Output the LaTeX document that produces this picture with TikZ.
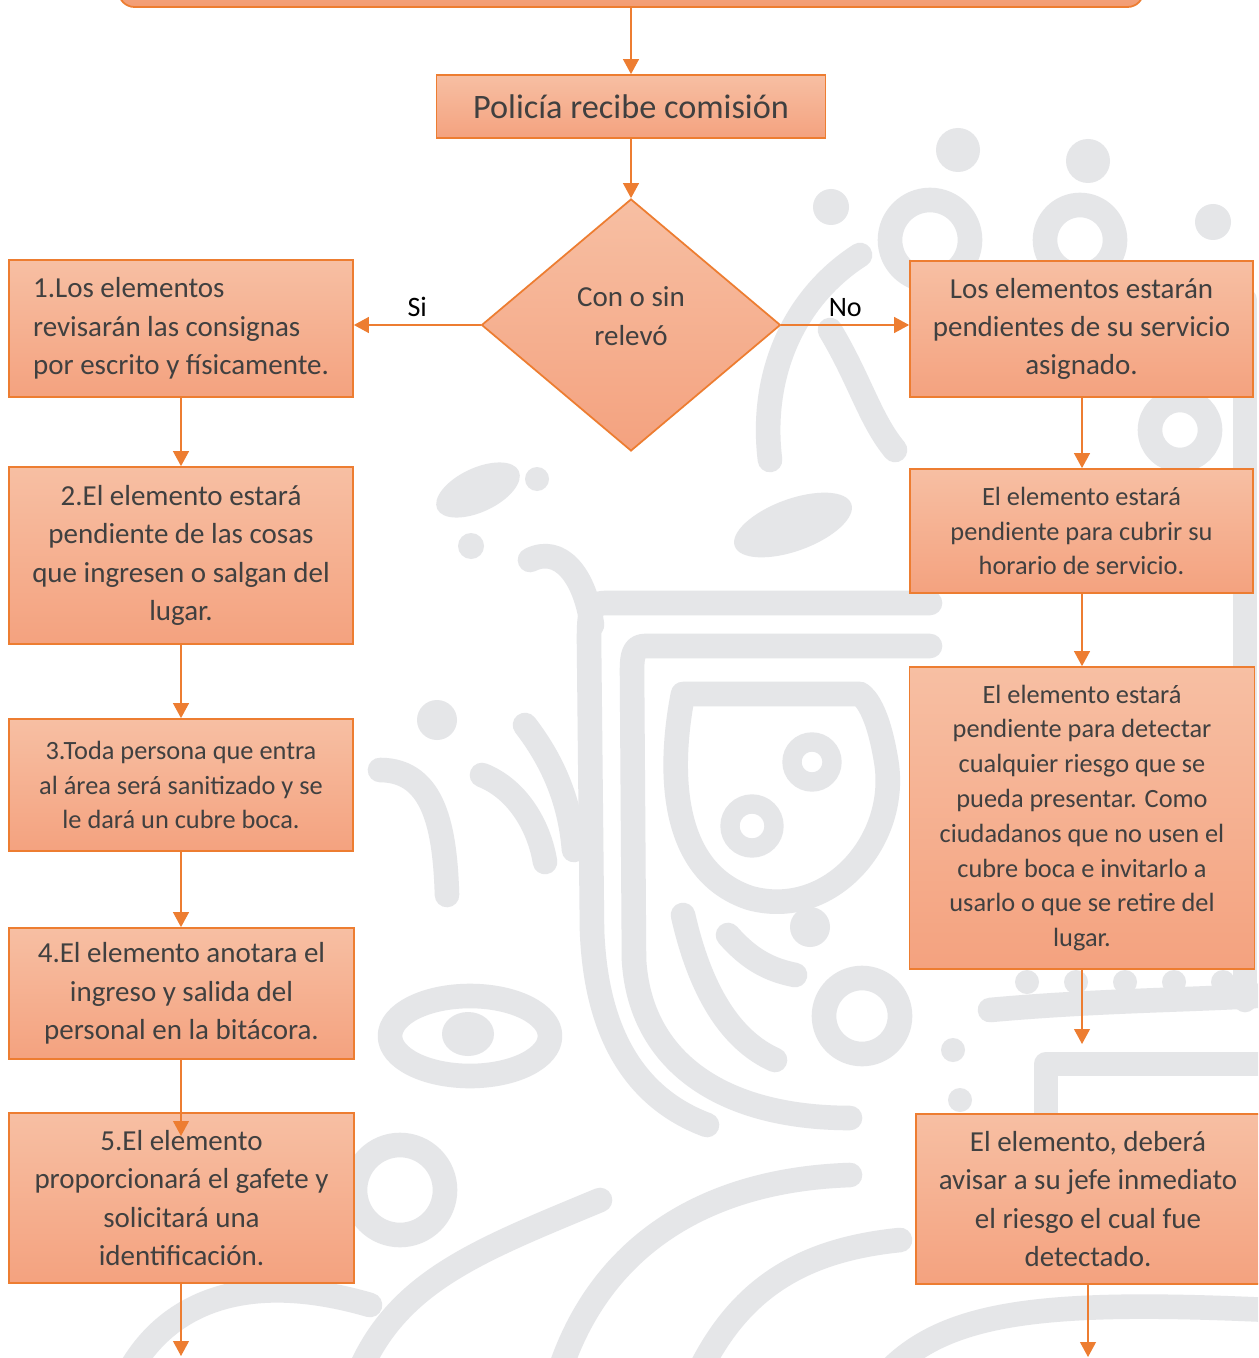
\documentclass[tikz,border=0pt]{standalone}
\usepackage{fontspec}
\setmainfont{Carlito}
\usepackage{xcolor}
\usepackage{tikz}
\usetikzlibrary{arrows.meta,positioning,shapes.geometric}

\definecolor{borde}{HTML}{ED7D31}
\definecolor{ftop}{HTML}{F7BFA3}
\definecolor{fbot}{HTML}{F4A27F}
\definecolor{texto}{HTML}{404040}
\definecolor{orncol}{HTML}{E5E6E8}

\tikzset{
  paso/.style={rectangle,draw=borde,line width=1pt,top color=ftop,bottom color=fbot,text=texto,
    align=center,inner sep=0pt,font=\fontsize{16.5}{21.8}\selectfont},
  pasochico/.style={paso,font=\fontsize{15}{19.8}\selectfont},
  flecha/.style={draw=borde,line width=0.8pt,-{Triangle[length=8.5pt,width=9pt]}},
  orn/.style={draw=orncol,line width=14pt,line cap=round,line join=round},
  ornfino/.style={draw=orncol,line width=11pt,line cap=round},
}

\begin{document}
\begin{tikzpicture}[x=0.02cm,y=-0.02cm]
\useasboundingbox (0,0) rectangle (1258,1358);
\fill[white] (0,0) rectangle (1258,1358);
\clip (0,0) rectangle (1258,1358);

% ornamento de fondo
\draw[orn] (930,603) -- (605,603) .. controls (590,603) and (589,615) .. (589,640) -- (592,930) .. controls (596,1040) and (640,1100) .. (707,1125);
\draw[orn] (930,646) -- (645,646) .. controls (634,646) and (632,655) .. (632,670) -- (634,960) .. controls (640,1060) and (720,1118) .. (850,1118);
\draw[orn] (860,694) -- (683,694) .. controls (670,760) and (665,870) .. (750,898) .. controls (830,920) and (900,840) .. (886,760) .. controls (878,712) and (866,698) .. (860,694);
\draw[ornfino] (812,762) circle (20); \draw[ornfino] (752,826) circle (22);
\draw[orn] (683,915) .. controls (700,990) and (730,1040) .. (775,1060); \draw[orn] (728,935) .. controls (750,960) and (770,970) .. (795,975);
\fill[orncol] (810,927) circle (20); \draw[orn] (862,1016) circle (38);
\fill[orncol,rotate around={25:(478,490)}] (478,490) ellipse (45 and 22); \fill[orncol,rotate around={20:(793,525)}] (793,525) ellipse (62 and 26);
\fill[orncol] (437,720) circle (20); \fill[orncol] (471,546) circle (13); \fill[orncol] (537,479) circle (12);
\draw[orn] (530,560) .. controls (560,545) and (585,575) .. (592,625);
\draw[orn] (482,775) .. controls (520,790) and (540,830) .. (545,862); \draw[orn] (525,725) .. controls (552,760) and (570,800) .. (574,850);
\draw[orn] (470,1036) ellipse (80 and 40); \fill[orncol] (468,1034) ellipse (26 and 22);
\draw[orn] (380,770) .. controls (435,770) and (445,830) .. (447,895);
\fill[orncol] (958,150) circle (22); \fill[orncol] (1088,161) circle (22); \fill[orncol] (831,207) circle (18); \fill[orncol] (1213,222) circle (18);
\draw[orn] (930,240) circle (40); \draw[orn] (1080,240) circle (35);
\draw[orn] (860,255) .. controls (790,300) and (760,380) .. (770,460); \draw[orn] (830,330) .. controls (860,380) and (870,420) .. (895,450);
\draw[orn] (1180,430) circle (30); \draw[orn] (1245,300) -- (1245,1000);
\foreach \xd in {1027,1076,1125,1174,1223} \fill[orncol] (\xd,982) circle (12);
\draw[orn] (990,1010) .. controls (1100,1000) and (1200,1000) .. (1270,995); \draw[orn] (1046,1113) -- (1046,1064) -- (1270,1064);
\fill[orncol] (953,1050) circle (12); \fill[orncol] (960,1100) circle (12);
\draw[orn] (400,1190) circle (45); \draw[orn] (360,1370) .. controls (400,1280) and (480,1250) .. (600,1200);
\draw[orn] (130,1370) .. controls (170,1300) and (250,1270) .. (370,1305);
\draw[orn] (560,1370) .. controls (600,1250) and (700,1180) .. (850,1175); \draw[orn] (700,1370) .. controls (740,1290) and (800,1250) .. (900,1240);
\draw[orn] (890,1370) .. controls (950,1310) and (1050,1300) .. (1270,1310);

% cajas
\node[paso,rounded corners=9pt,bottom color=fbot!85!borde,minimum width=20.5cm,minimum height=2cm] (inicio) at (631,-43) {};
\node[paso,minimum width=7.78cm,minimum height=1.26cm,font=\fontsize{19.5}{23}\selectfont] (poli) at (631,106.5) {Policía recibe comisión};
\node[paso,diamond,aspect=1.19,minimum width=5.98cm,minimum height=5.04cm] (dec) at (631,325) {};
\node[text=texto,align=center,font=\fontsize{16.5}{22}\selectfont] (dectxt) at (631,316) {Con o sin\\relevó};

\node[paso,align=left,minimum width=6.88cm,minimum height=2.74cm] (b1) at (181,328.5) {1.Los elementos\\revisarán las consignas\\por escrito y físicamente.};
\node[paso,minimum width=6.88cm,minimum height=3.54cm] (b2) at (181,555.5) {2.El elemento estará\\pendiente de las cosas\\que ingresen o salgan del\\lugar.};
\node[pasochico,minimum width=6.88cm,minimum height=2.64cm] (b3) at (181,785) {3.Toda persona que entra\\al área será sanitizado y se\\le dará un cubre boca.};
\node[paso,minimum width=6.9cm,minimum height=2.62cm] (b4) at (181.5,993.5) {4.El elemento anotara el\\ingreso y salida del\\personal en la bitácora.};
\node[paso,minimum width=6.9cm,minimum height=3.4cm] (b5) at (181.5,1198) {5.El elemento\\proporcionará el gafete y\\solicitará una\\identificación.};

\node[paso,minimum width=6.86cm,minimum height=2.72cm] (r1) at (1081.5,329) {Los elementos estarán\\pendientes de su servicio\\asignado.};
\node[pasochico,minimum width=6.86cm,minimum height=2.48cm] (r2) at (1081.5,531) {El elemento estará\\pendiente para cubrir su\\horario de servicio.};
\node[pasochico,minimum width=6.9cm,minimum height=6.04cm] (r3) at (1082,818) {El elemento estará\\pendiente para detectar\\cualquier riesgo que se\\pueda presentar. Como\\ciudadanos que no usen el\\cubre boca e invitarlo a\\usarlo o que se retire del\\lugar.};
\node[paso,minimum width=6.88cm,minimum height=3.4cm] (r4) at (1088,1199) {El elemento, deberá\\avisar a su jefe inmediato\\el riesgo el cual fue\\detectado.};

% conectores
\coordinate (c45) at (181,1136); \coordinate (fin1) at (181,1356); \coordinate (c34) at (1082,1044); \coordinate (fin2) at (1088,1357);
\draw[flecha] (inicio.south) -- (poli.north); \draw[flecha] (poli) -- (dec.north);
\draw[flecha] (dec.west) -- (b1.east |- dec.west) node[midway,above=1pt,font=\fontsize{16}{19}\selectfont] {Si};
\draw[flecha] (dec.east) -- (r1.west |- dec.east) node[midway,above=1pt,font=\fontsize{16}{19}\selectfont] {No};
\draw[flecha] (b1) -- (b2); \draw[flecha] (b2) -- (b3); \draw[flecha] (b3) -- (b3 |- b4.north); \draw[flecha] (b3 |- b4.south) -- (c45); \draw[flecha] (c45 |- b5.south) -- (fin1);
\draw[flecha] (r1.south -| c34) -- (r2.north -| c34); \draw[flecha] (r2.south -| c34) -- (r3.north -| c34); \draw[flecha] (r3.south -| c34) -- (c34); \draw[flecha] (r4.south) -- (fin2);
\end{tikzpicture}
\end{document}
